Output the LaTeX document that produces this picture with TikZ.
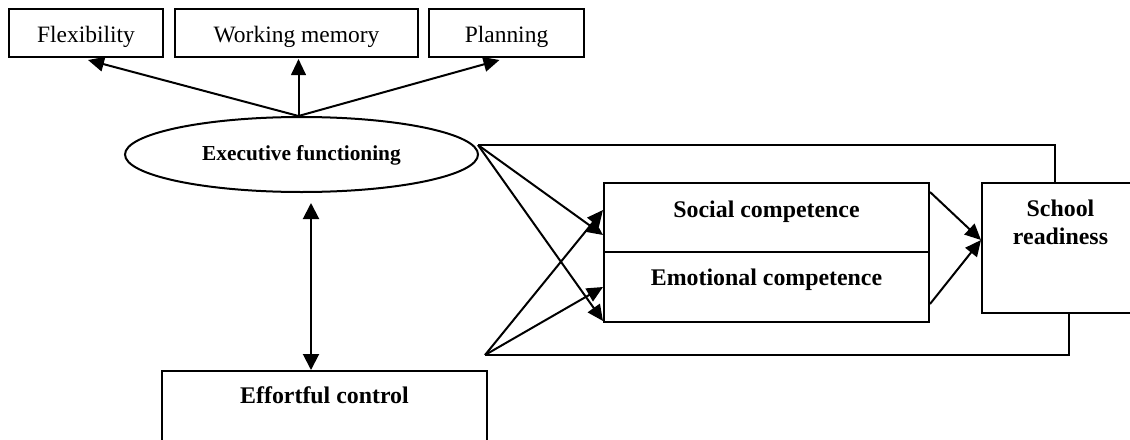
\documentclass[tikz,border=0pt]{standalone}
\usepackage{fontspec}
\setmainfont{Liberation Serif}
\usetikzlibrary{arrows.meta,calc,shapes.geometric}
\tikzset{
  lw/.style={line width=1.5pt},
  topbox/.style={draw, lw, inner sep=0pt, minimum height=36pt, text height=14pt, text depth=0pt,
    font=\fontsize{17.6pt}{21pt}\selectfont},
  boldbox/.style={draw, lw, inner sep=0pt, font=\fontsize{17.9pt}{21pt}\selectfont\bfseries},
  arr/.style={lw, -{Triangle[length=12pt,width=11pt]}},
  biarr/.style={lw, {Triangle[length=12pt,width=12pt]}-{Triangle[length=12pt,width=12pt]}},
  ln/.style={lw}
}
\begin{document}
\begin{tikzpicture}[x=0.75pt, y=-0.75pt]
\useasboundingbox (0,0) rectangle (1130,439);
\clip (0,0) rectangle (1130,439);
% top boxes
\node[topbox, minimum width=115.5pt] (flex) at (86,33) {Flexibility};
\node[topbox, minimum width=182.25pt] (wm) at (296.5,33) {Working memory};
\node[topbox, minimum width=116.25pt] (plan) at (506.5,33) {Planning};
% executive functioning
\node[ellipse, draw, lw, inner sep=0pt, minimum width=264.75pt, minimum height=56.25pt,
      text height=9.3pt, text depth=0pt, font=\fontsize{16pt}{19pt}\selectfont\bfseries]
      (ef) at (301.5,154.5) {Executive functioning};
% competence boxes
\node[boldbox, minimum width=243.75pt, minimum height=51.75pt, text height=10pt, text depth=10pt]
      (soc) at (766.5,217.5) {Social competence};
\node[boldbox, minimum width=243.75pt, minimum height=52.5pt, text height=10pt, text depth=13pt]
      (emo) at (766.5,287) {Emotional competence};
% school readiness
\node[boldbox, minimum width=117.75pt, minimum height=97.5pt,
      label={[font=\fontsize{17.9pt}{21pt}\selectfont\bfseries, align=center, yshift=19.5pt]center:School\\readiness}]
      (sr) at (1060.5,248) {};
% effortful control
\node[boldbox, minimum width=243.75pt, minimum height=73.5pt, text height=10pt, text depth=35.5pt]
      (ec) at (324.5,420) {Effortful control};
% arrows to indicators
\draw[arr] ($(ef.north)+(-3,0)$) -- ($(flex.south)+(2,2)$);
\draw[arr] ($(ef.north)+(-3,0)$) -- ($(ef.north |- wm.south)+(-3,1)$);
\draw[arr] ($(ef.north)+(-3,0)$) -- ($(plan.south)+(-7,2)$);
% bidirectional
\coordinate (bx) at (311,203);
\draw[biarr] (bx) -- (bx |- ec.north);
% from executive functioning
\coordinate (efo) at (478,145);
\draw[ln] (efo) -| ($(sr.north)+(-5.5,0)$);
\draw[arr] (efo) -- ($(soc.south west)+(0,-18)$);
\draw[arr] (efo) -- ($(emo.south west)+(0,-2)$);
% from effortful control
\coordinate (ecp) at (485,355);
\draw[arr] (ecp) -- ($(soc.west)+(0,-7.5)$);
\draw[arr] (ecp) -- (emo.west);
\draw[ln] (ecp) -| ($(sr.south)+(8.5,0)$);
% to school readiness
\draw[arr] ($(soc.north east)+(0,10)$) -- ($(sr.west)+(0,-8)$);
\draw[arr] ($(emo.south east)+(0,-19)$) -- ($(sr.west)+(0,-8)$);
\end{tikzpicture}
\end{document}
